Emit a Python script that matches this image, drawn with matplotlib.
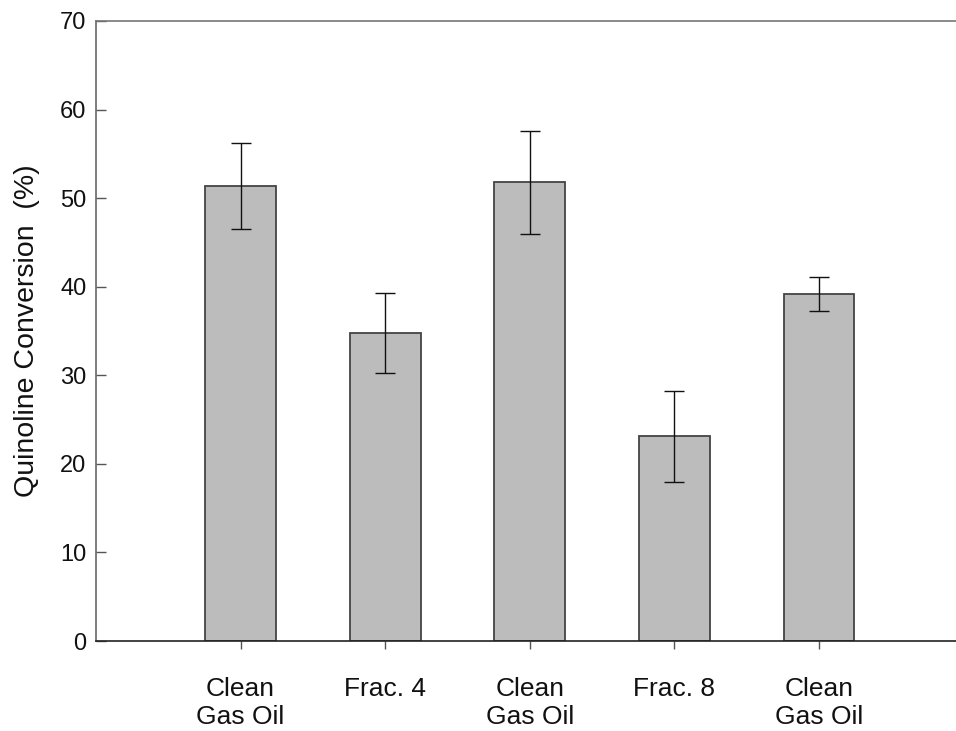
import matplotlib
matplotlib.use("Agg")
from matplotlib import pyplot as plt

# data
samples = ["Clean\nGas Oil", "Frac. 4", "Clean\nGas Oil", "Frac. 8", "Clean\nGas Oil"]
conversion = [51.4, 34.8, 51.8, 23.1, 39.2]
error = [4.85, 4.5, 5.8, 5.1, 1.95]
yticks = [0, 10, 20, 30, 40, 50, 60, 70]

plt.rcParams['font.family'] = ['Liberation Sans', 'DejaVu Sans']

fig = plt.figure(figsize=(9.56, 7.31), dpi=100)
ax = fig.add_axes([0.1004, 0.1231, 0.9076, 0.8482])

x = list(range(len(samples)))
ax.bar(x, conversion, width=0.49, color="#bcbcbc", edgecolor="#444444",
       linewidth=1.3, zorder=2)
ax.errorbar(x, conversion, yerr=error, fmt="none", ecolor="#111111",
            elinewidth=1.0, capsize=7.5, capthick=1.0, zorder=3)

ax.set_xlim(-1, 5)
ax.set_ylim(0, 70)
ax.set_yticks(yticks)
ax.set_xticks(x)
ax.set_xticklabels(samples, fontsize=19, linespacing=1.2)
ax.tick_params(axis="y", direction="in", length=7, width=1, colors="#555555",
               labelcolor="#111111", labelsize=17, pad=7)
ax.tick_params(axis="x", direction="out", length=6, width=1, colors="#555555",
               labelcolor="#111111", pad=20)

ax.spines["right"].set_visible(False)
ax.spines["left"].set_color("#666666")
ax.spines["top"].set_color("#777777")
ax.spines["bottom"].set_color("#222222")
for s in ax.spines.values():
    s.set_linewidth(1.2)

ax.set_ylabel("Quinoline Conversion  (%)", fontsize=20.5, color="#111111")
ax.yaxis.set_label_coords(-0.065, 0.5)

fig.savefig("out.png", dpi=100)
